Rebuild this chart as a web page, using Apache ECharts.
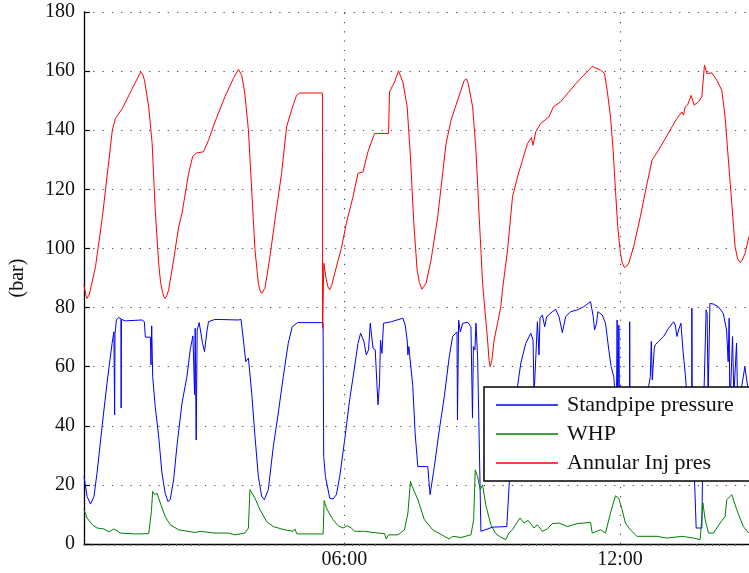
<!DOCTYPE html>
<html>
<head>
<meta charset="utf-8">
<script src="https://cdn.jsdelivr.net/npm/echarts@6/dist/echarts.min.js"></script>
<style>
html,body{margin:0;padding:0;overflow:hidden;background:#fff;}
#c{width:800px;height:573px;}
</style>
</head>
<body>
<div id="c"></div>
<script>
// time in minutes after midnight, pressure in bar
var seriesNames = ['Standpipe pressure', 'WHP', 'Annular Inj pres'];
var xTickLabels = {360: '06:00', 720: '12:00'};
var yTicks = [0, 20, 40, 60, 80, 100, 120, 140, 160, 180];

var standpipe = [[20,22.8],[24,16.1],[28.5,13.5],[33,16.1],[37,24],[43.6,39.7],[50,54.4],[56.7,67.9],[59,71.8],[60,43.7],[60.5,71],[62.3,75.8],[65.4,76.7],[68.2,76.2],[68.5,46],[68.9,76],[74,75.5],[95.8,75.8],[98.8,75.2],[100.1,70],[106.6,70],[107.5,60.6],[108.4,73.8],[109.7,56.6],[113,46.5],[117.5,36.4],[121.8,24],[126,17.2],[129.6,14.4],[132.6,15],[137,21.7],[141.3,33],[148,47.7],[154.4,56.6],[158.7,65.7],[162.2,70.4],[164.4,50.5],[165.2,73],[166.5,35.2],[167.8,72.4],[170.4,74.9],[174.8,67.9],[177.4,65.1],[180.4,71.8],[182.6,75.2],[191,76],[221.7,75.8],[225,76],[228.2,69],[231.2,61.7],[234.7,62.9],[239,51],[243.3,36.4],[247.7,22.8],[252,16.1],[255.5,15],[260.7,18.4],[267.2,33],[273.7,44.3],[280.2,56.6],[286.7,67.9],[291.9,73.5],[298.8,74.9],[332.2,74.9],[333,29.6],[335.3,22.8],[340.9,15.5],[345.3,15.2],[349.6,16.7],[353.9,22.8],[360.4,35.2],[366.9,48.8],[373.4,60],[377.8,67.9],[381.2,71.3],[385.6,68.5],[388.6,64],[391.6,65.7],[393.8,74.7],[396.1,75.2],[397.4,66.2],[400.3,65.7],[403.9,47.1],[405.9,54.4],[407.2,69],[409.1,64.5],[411.1,74.7],[421.2,75.2],[436.4,76.4],[439.4,74.1],[442,69],[442.9,64],[444.2,66.8],[449.4,53.3],[452.4,37.5],[455.9,26.2],[468.9,26.2],[471.9,16.7],[477.5,26.2],[484,38.6],[490.5,49.9],[497,63.4],[501.4,70.2],[507.1,71.8],[507.7,42],[509.2,75.8],[511.4,71.8],[514.5,74.7],[521,75],[525.3,73.5],[527.3,42.6],[528.5,66.8],[530.5,65.7],[531.8,74.7],[534,63.4],[536.1,35.2],[538.3,4.3],[553.5,5.7],[572.1,5.9],[575.1,19.5],[580,40],[586.1,53.3],[590.4,61.2],[596.9,67.9],[603.4,71.3],[606.4,69],[607.7,50],[612.1,75.2],[614.2,64],[615.5,76.4],[618.6,77.5],[621.6,73.5],[624.2,76.9],[631.6,78.6],[635.9,79.4],[640.3,76.9],[644.7,71.5],[648.9,76.9],[655.4,78.6],[664.2,79.2],[672.7,80.3],[681.5,82],[685,76.9],[686.7,72.4],[689.3,74.7],[691,78.6],[696.7,77.5],[701,74.7],[705.3,65.7],[708.4,60],[711.8,56.6],[715.3,45],[716.2,75.8],[717,40],[718.5,74],[719.5,38],[727,35],[732.2,36],[732.6,75.2],[733.2,36],[746.5,40],[757.3,53.3],[759.5,56.6],[760.8,68.5],[762.1,55.5],[764.7,66.2],[766,67.4],[770.4,68.5],[776.9,70.2],[783.4,73],[789.9,75.2],[792.1,74.1],[794.3,70.2],[796.4,72.4],[799.5,74.7],[802.1,65.7],[805.1,57.8],[809,45],[813.6,45],[813.8,79.8],[814.2,45],[819.4,5.4],[826.8,5.4],[828.5,40],[832.4,79.2],[833.7,78],[835,50],[837.4,81.4],[841.7,81.2],[848.2,80.3],[854.7,78.1],[859.1,72.4],[861.2,61.7],[862.5,76.4],[863.4,45],[866.9,70.2],[868.6,50],[872.1,68],[873.8,45],[883,60],[888.4,50]];

var whp = [[20,11.6],[24,8.8],[31,6.5],[37,5.4],[46,5.1],[52.5,4.1],[59,5.1],[67.6,3.7],[87,3.4],[104.5,3.5],[108,11],[109.7,17.8],[112.3,16.7],[115.3,17.2],[119.6,13.9],[126,9.3],[132.6,6.5],[143.6,4.8],[165,3.9],[171.7,4.3],[191,3.7],[208.6,3.7],[217,3.1],[230,3.7],[234.7,5.4],[236.7,18.4],[239,17.8],[243.3,15.5],[249.8,11.6],[258.5,7.6],[267,5.9],[282,4.8],[293,4.3],[295.3,5.1],[298,3.4],[332.3,3.4],[333.6,14.7],[336.6,12.2],[340,10.5],[341.8,11],[345.3,8.2],[351.8,6.2],[358.3,5.4],[364,6.2],[369,5.4],[373.4,4.3],[386.4,4.3],[397.4,3.9],[412.5,3.5],[414.7,1.7],[417.7,3.1],[430,3.1],[438.5,4.8],[443,10.5],[446.3,21.2],[448.5,19.5],[450.7,20],[456,15],[464.5,8.2],[475.4,4.8],[490.5,2.6],[497,1.7],[501.4,2.6],[512.3,2.2],[525.3,3.1],[528.8,8.2],[530.9,25.1],[534,22.8],[537.4,18.4],[540.5,20],[544.8,13],[551.3,6.5],[557.8,3.5],[564,2.3],[570.8,1.5],[575,3.7],[579.5,4.8],[586,7.5],[589.4,8.8],[594.7,7.1],[600,8],[607.7,5.4],[612,6.5],[618.6,4.3],[625,5.1],[631.6,6.9],[640.3,7.1],[651.2,5.9],[664.2,6.9],[681.5,7.3],[683.7,3.7],[694.5,4.8],[701,3.7],[707.5,10.5],[714,16.3],[718.3,15.5],[722.7,11.6],[727,7.1],[733.5,4.8],[742,2.6],[755,2.6],[768,2.6],[781,2],[801,2.6],[816,2],[824.6,1.5],[828.2,13.9],[831.2,8.2],[835.5,3.7],[842,3.7],[850.7,7.1],[857.2,9.3],[859.4,15],[866,16.7],[872.4,11.6],[881,5.9],[888,3.7]];

var annular = [[20,87.6],[22,84.5],[24,83.1],[27,84.5],[35,93.8],[44,110.7],[50,124.2],[57,140],[61,144],[70,147.3],[83,154.1],[94,159.7],[96.5,159],[99,156.9],[104.5,147.9],[109,135.5],[113,113],[117.5,95],[120,88.5],[122,85.9],[124,83.8],[126,83.1],[128,84],[130.5,85.9],[137,96.1],[143.6,107.3],[148,111.9],[156.6,125.4],[162,131.2],[167,132.3],[176,132.7],[182.6,136.6],[191,142.8],[204,151.3],[215,157.5],[221.7,160.6],[226,158.6],[230,152.4],[234.7,140],[239,119.7],[243.3,99.5],[247.7,88.2],[250,85.7],[252,84.8],[254,85.2],[256.3,86.5],[262.8,97.2],[269.3,109.6],[278,125.4],[284.5,141.1],[291,146.8],[297.5,151.8],[301.8,152.6],[331.4,152.6],[331.6,73],[332.6,73],[333.2,95],[336,90],[338.5,87],[340.9,86],[343.5,87.5],[347.4,91.6],[356,100],[362.6,108.5],[371.3,117.5],[377.8,125.4],[384.3,125.9],[390.8,132.7],[399.4,138.9],[417.7,138.9],[419,153],[425.5,156.3],[430.7,160.1],[433,159.5],[436.4,156.3],[442,147.9],[446.3,131],[450.7,108.5],[455,92.7],[458,88.5],[461.1,86.2],[463.5,86.5],[466.7,88.2],[473.2,96.1],[481.9,110.7],[492.8,135.5],[499.3,143.4],[508,150.2],[516.6,156.9],[519.5,157.3],[521.8,155.8],[527.5,147.9],[531.8,133.3],[536.1,110.7],[540.5,88.2],[547,69],[549,62],[550.4,60],[552.5,62],[555.6,69],[564.3,80.3],[566.5,86],[573.1,99.5],[579.6,117.5],[586.1,124.2],[592.6,129.9],[599.1,135.5],[604.3,137.5],[606.4,134.9],[609.9,139.4],[616.4,142.3],[627.2,144.5],[632.9,147.9],[642.4,149.6],[653.2,153],[664.2,156.3],[683.7,161.6],[694.5,160.3],[699.7,159.2],[703.2,153.5],[707.5,144.5],[711,133.3],[714,119.7],[717,107.3],[720.5,98.3],[723,95],[725.7,93.6],[728.5,94],[731.3,95],[737.8,100.6],[746.5,110.7],[754.4,120.9],[761.8,129.9],[770.4,133.3],[779.1,137.2],[787.8,141.1],[794.3,144],[800.8,146.2],[802.9,145.1],[805.1,147.9],[808.1,148.5],[812.9,151.8],[816.8,148.5],[822.4,149.6],[826.8,151.3],[830.2,162],[833.4,159.2],[839.9,159.4],[846.4,156.9],[852.9,153.5],[857.2,144.5],[861.5,129.9],[865.9,115.2],[870.2,100.6],[873.5,96.5],[876.7,95.3],[879.5,96],[883.2,98.3],[888.4,104]];

var FONT = '"Liberation Serif", "DejaVu Serif", serif';
var chart = echarts.init(document.getElementById('c'), null, {renderer: 'canvas'});
var dotted = {color: '#444', width: 1.1, type: [1.2, 8.1]};

function lineSeries(name, data, color, extra) {
  var s = {
    name: name, type: 'line', data: data, showSymbol: false, symbol: 'none',
    lineStyle: {color: color, width: 1}, itemStyle: {color: color},
    animation: false, clip: true
  };
  if (extra) for (var k in extra) s[k] = extra[k];
  return s;
}

chart.setOption({
  animation: false,
  backgroundColor: '#fff',
  grid: {left: 82, right: 51, top: 12, bottom: 29},
  legend: {
    orient: 'vertical', left: 484, top: 387,
    data: seriesNames,
    icon: 'rect', itemWidth: 62, itemHeight: 1.3, itemGap: 7,
    padding: [7, 30, 7, 12],
    backgroundColor: '#fff', borderColor: '#000', borderWidth: 1.5, borderRadius: 0,
    textStyle: {fontFamily: FONT, fontSize: 22, color: '#111', lineHeight: 22, padding: [0, 0, 0, 4]},
    z: 10
  },
  xAxis: {
    type: 'value', min: 20, max: 888.4, interval: 10,
    axisLine: {show: true, onZero: false, lineStyle: {color: '#000', width: 1.3}},
    axisTick: {show: true, inside: false, length: 2, lineStyle: {color: '#555', width: 1}},
    axisLabel: {
      margin: 6, fontFamily: FONT, fontSize: 20, color: '#111',
      formatter: function (v) {
        var r = Math.round(v);
        return (Math.abs(v - r) < 0.01 && xTickLabels[r]) ? xTickLabels[r] : '';
      }
    },
    splitLine: {show: false}
  },
  yAxis: {
    type: 'value', min: yTicks[0], max: yTicks[yTicks.length - 1], interval: 20,
    name: '(bar)', nameLocation: 'middle', nameGap: 56, nameRotate: 90,
    nameTextStyle: {fontFamily: FONT, fontSize: 20, color: '#111'},
    axisLine: {show: true, lineStyle: {color: '#000', width: 1.3}},
    axisTick: {show: true, inside: true, length: 6, lineStyle: {color: '#000', width: 1.2}},
    axisLabel: {margin: 9, fontFamily: FONT, fontSize: 20, color: '#111'},
    splitLine: {show: true, lineStyle: dotted}
  },
  series: [
    lineSeries(seriesNames[0], standpipe, '#0000ff', {
      markLine: {
        silent: true, symbol: 'none', label: {show: false},
        lineStyle: dotted, animation: false,
        data: [{xAxis: 360}, {xAxis: 720}]
      }
    }),
    lineSeries(seriesNames[1], whp, '#007f00'),
    lineSeries(seriesNames[2], annular, '#ff0000')
  ]
});
</script>
</body>
</html>
